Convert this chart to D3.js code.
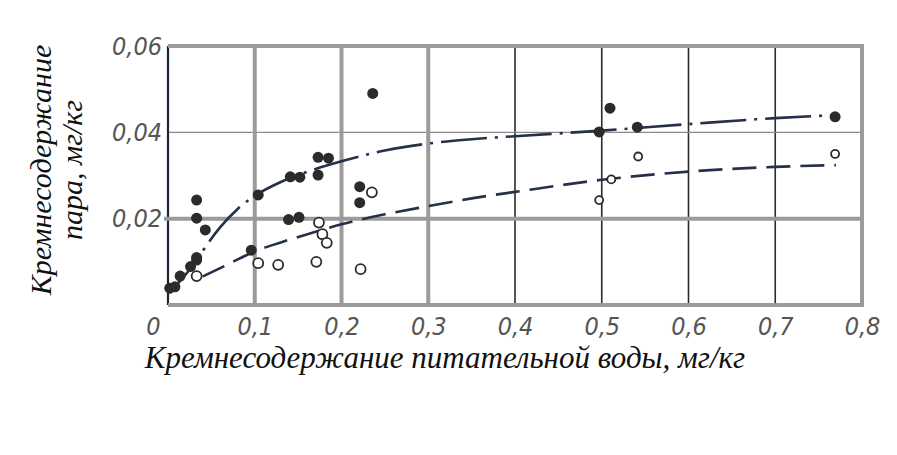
<!DOCTYPE html>
<html>
<head>
<meta charset="utf-8">
<script src="https://cdn.jsdelivr.net/npm/d3@7"></script>
<style>
  body { margin: 0; background: #fff; }
  .tick text { font-family: "DejaVu Sans Condensed", "DejaVu Sans", sans-serif; font-stretch: condensed; font-style: italic; fill: #555; }
  .title { font-family: "Liberation Serif", serif; font-style: italic; fill: #111; }
</style>
</head>
<body>
<svg id="chart" width="897" height="455"></svg>
<script>
// values
const xTicks = [0, 0.1, 0.2, 0.3, 0.4, 0.5, 0.6, 0.7, 0.8]
const yTicks = [0.02, 0.04, 0.06]
const boldGridX = [0.1, 0.2, 0.3]
const thinGridX = [0.4, 0.5, 0.6, 0.7]

// steam silica, filled dots
const filledX = [0.002, 0.008, 0.014, 0.026, 0.033, 0.033, 0.033, 0.033, 0.043, 0.096, 0.104, 0.139, 0.151,
    0.141, 0.152, 0.173, 0.173, 0.185, 0.221, 0.221, 0.236, 0.497, 0.5095, 0.541, 0.769]
const filledY = [0.0039, 0.0042, 0.0067, 0.0089, 0.0104, 0.0201, 0.0243, 0.0110, 0.0174, 0.0127, 0.0255, 0.0198, 0.0203,
    0.0297, 0.0296, 0.0301, 0.0342, 0.0340, 0.0274, 0.0237, 0.0490, 0.0401, 0.0456, 0.0412, 0.0436]

// open circles
const openX = [0.033, 0.104, 0.127, 0.171, 0.174, 0.178, 0.183, 0.222, 0.235, 0.497, 0.511, 0.542, 0.769]
const openY = [0.0067, 0.0097, 0.0093, 0.0100, 0.0191, 0.0164, 0.0144, 0.0083, 0.0261, 0.0243, 0.0291, 0.0344, 0.0350]

// fitted curves
const upperCurveX = [0.002, 0.015, 0.03, 0.045, 0.06, 0.08, 0.1, 0.13, 0.17, 0.2, 0.25, 0.3, 0.35, 0.4, 0.5, 0.6, 0.7, 0.77]
const upperCurveY = [0.0028, 0.0058, 0.0095, 0.0140, 0.0180, 0.0222, 0.0253, 0.0285, 0.0315, 0.0333, 0.0358, 0.0374, 0.0384, 0.0391, 0.0404, 0.0419, 0.0433, 0.0440]
const lowerCurveX = [0.04, 0.07, 0.095, 0.13, 0.171, 0.2, 0.25, 0.3, 0.35, 0.4, 0.5, 0.6, 0.7, 0.77]
const lowerCurveY = [0.0066, 0.0095, 0.0120, 0.0145, 0.0170, 0.0187, 0.0210, 0.0229, 0.0247, 0.0262, 0.0290, 0.0309, 0.0320, 0.0324]

const svg = d3.select('#chart')
const plotLeft = 168, plotRight = 862, plotTop = 46, plotBottom = 305
const x = d3.scaleLinear().domain([0, 0.8]).range([plotLeft, plotRight])
const y = d3.scaleLinear().domain([0, 0.06]).range([plotBottom, plotTop])
const fmt = d => d === 0 ? '0' : d3.format('.2~f')(d).replace('.', ',')

svg.append('rect').attr('width', 897).attr('height', 455).attr('fill', '#fff')

const grid = svg.append('g')
// thin scan lines
grid.selectAll('.thinx').data(thinGridX).enter().append('line')
    .attr('x1', d => x(d)).attr('x2', d => x(d)).attr('y1', plotTop).attr('y2', plotBottom)
    .attr('stroke', '#2a2a2a').attr('stroke-width', 1.6)
grid.append('line')
    .attr('x1', plotLeft).attr('x2', plotRight).attr('y1', y(0.04)).attr('y2', y(0.04))
    .attr('stroke', '#8a8a8a').attr('stroke-width', 1.3)
grid.append('line')
    .attr('x1', plotLeft).attr('x2', plotLeft).attr('y1', plotTop).attr('y2', plotBottom)
    .attr('stroke', '#1e2433').attr('stroke-width', 2.2)
// heavy grey overlay lines
grid.selectAll('.boldx').data(boldGridX).enter().append('line')
    .attr('x1', d => x(d)).attr('x2', d => x(d)).attr('y1', plotTop).attr('y2', plotBottom)
    .attr('stroke', '#9b9b9b').attr('stroke-width', 4)
grid.append('line')
    .attr('x1', plotLeft - 4).attr('x2', plotRight).attr('y1', y(0.02)).attr('y2', y(0.02))
    .attr('stroke', '#9b9b9b').attr('stroke-width', 4)
grid.append('path')
    .attr('d', `M${plotLeft},${y(0.06)}H${plotRight}V${y(0)}H${plotLeft}`)
    .attr('fill', 'none').attr('stroke', '#9b9b9b').attr('stroke-width', 4)

// curves
const line = d3.line().x(d => x(d[0])).y(d => y(d[1])).curve(d3.curveMonotoneX)
svg.append('path').datum(d3.zip(upperCurveX, upperCurveY))
    .attr('d', line).attr('fill', 'none').attr('stroke', '#26304a').attr('stroke-width', 2.6)
    .attr('stroke-dasharray', '46,8,3,8')
svg.append('path').datum(d3.zip(lowerCurveX, lowerCurveY))
    .attr('d', line).attr('fill', 'none').attr('stroke', '#26304a').attr('stroke-width', 2.6)
    .attr('stroke-dasharray', '24,10')

// points
svg.selectAll('.filled').data(d3.zip(filledX, filledY)).enter().append('circle')
    .attr('cx', d => x(d[0])).attr('cy', d => y(d[1])).attr('r', 5.5)
    .attr('fill', '#2b2b2b')
svg.selectAll('.open').data(d3.zip(openX, openY)).enter().append('circle')
    .attr('cx', d => x(d[0])).attr('cy', d => y(d[1])).attr('r', d => d[0] > 0.4 ? 4 : 5)
    .attr('fill', '#fff').attr('stroke', '#2b2b2b').attr('stroke-width', 1.8)

// tick labels
const xAxis = svg.append('g').attr('transform', `translate(0,${plotBottom})`)
    .call(d3.axisBottom(x).tickValues(xTicks).tickFormat(fmt).tickSize(0).tickPadding(12))
xAxis.select('.domain').remove()
xAxis.selectAll('text').attr('font-size', 25).attr('dx', d => d === 0 ? -15 : 0)

const yAxis = svg.append('g').attr('transform', `translate(${plotLeft},0)`)
    .call(d3.axisLeft(y).tickValues(yTicks).tickFormat(fmt).tickSize(0).tickPadding(6))
yAxis.select('.domain').remove()
yAxis.selectAll('text').attr('font-size', 25)

// axis titles
svg.append('text').attr('class', 'title')
    .attr('x', 445).attr('y', 368).attr('text-anchor', 'middle').attr('font-size', 31)
    .text('Кремнесодержание питательной воды, мг/кг')
const yTitle = svg.append('g').attr('transform', 'translate(0,170) rotate(-90)')
yTitle.append('text').attr('class', 'title')
    .attr('x', 0).attr('y', 51).attr('text-anchor', 'middle').attr('font-size', 30)
    .text('Кремнесодержание')
yTitle.append('text').attr('class', 'title')
    .attr('x', 0).attr('y', 82).attr('text-anchor', 'middle').attr('font-size', 30)
    .text('пара, мг/кг')
</script>
</body>
</html>
